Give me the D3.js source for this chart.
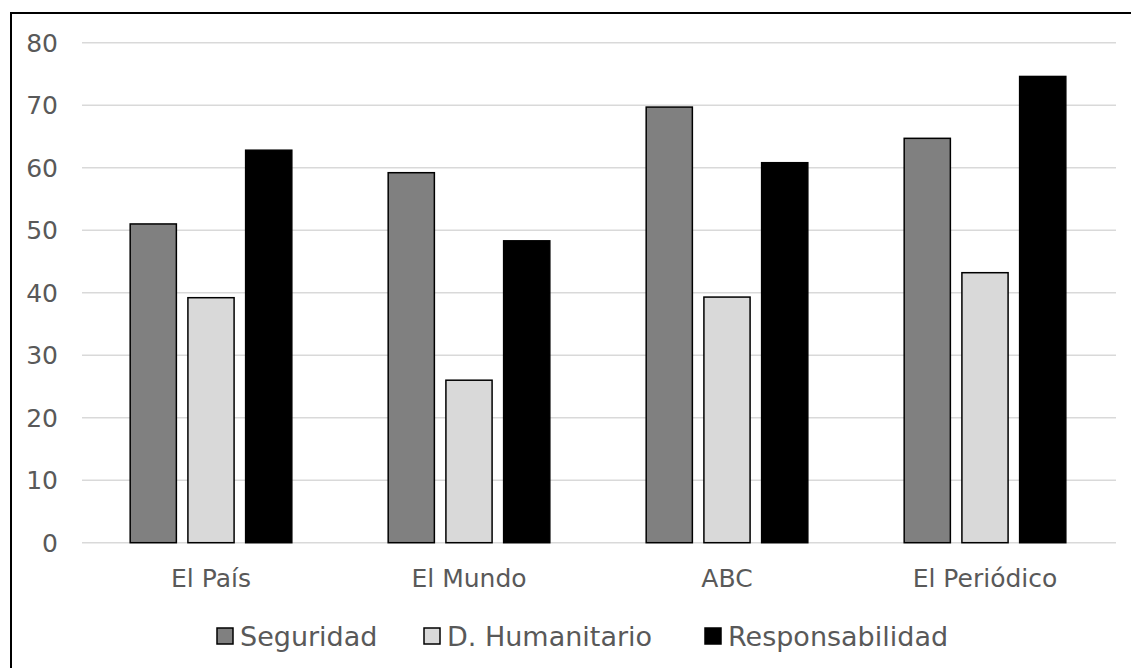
<!DOCTYPE html>
<html><head><meta charset="utf-8">
<script src="https://cdn.jsdelivr.net/npm/d3@7"></script>
<style>body{margin:0;background:#fff}svg{display:block}</style>
</head><body>
<svg id="c" width="1131" height="668"></svg>
<script>
const categories = ["El País", "El Mundo", "ABC", "El Periódico"];
const seriesNames = ["Seguridad", "D. Humanitario", "Responsabilidad"];
const seguridad = [51.0, 59.2, 69.7, 64.7];
const humanitario = [39.2, 26.0, 39.3, 43.2];
const responsabilidad = [62.8, 48.3, 60.8, 74.6];
const yTicks = [0, 10, 20, 30, 40, 50, 60, 70, 80];
const colors = ["#808080", "#d9d9d9", "#000000"];

const values = [seguridad, humanitario, responsabilidad];
const svg = d3.select("#c");
const font = "'DejaVu Sans', Verdana, sans-serif";
const fs = 25;

svg.append("rect").attr("x", 11).attr("y", 13).attr("width", 1300).attr("height", 800)
  .attr("fill", "#fff").attr("stroke", "#000").attr("stroke-width", 2);

const y = d3.scaleLinear().domain([0, 80]).range([542.7, 42.7]);
const x0 = d3.scaleBand().domain(categories).range([82, 1114]).paddingInner(0.3735).paddingOuter(0.18675);
const x1 = d3.scaleBand().domain(seriesNames).range([0, x0.bandwidth()]).paddingInner(0.2).paddingOuter(0);

// gridlines
svg.append("g").selectAll("line").data(yTicks).join("line")
  .attr("x1", 82).attr("x2", 1116)
  .attr("y1", d => y(d)).attr("y2", d => y(d))
  .attr("stroke", "#d9d9d9").attr("stroke-width", 1.5);

// y labels
svg.append("g").selectAll("text").data(yTicks).join("text")
  .attr("x", 58).attr("y", d => y(d)).attr("dy", "0.36em")
  .attr("text-anchor", "end").attr("font-family", font).attr("font-size", fs)
  .attr("fill", "#595959").text(d => d);

// bars
const g = svg.append("g");
categories.forEach((c, ci) => {
  seriesNames.forEach((s, si) => {
    g.append("rect")
      .attr("x", x0(c) + x1(s))
      .attr("y", y(values[si][ci]))
      .attr("width", x1.bandwidth())
      .attr("height", y(0) - y(values[si][ci]))
      .attr("fill", colors[si]).attr("stroke", "#000").attr("stroke-width", 1.5);
  });
});

// x labels
svg.append("g").selectAll("text").data(categories).join("text")
  .attr("x", d => x0(d) + x0.bandwidth() / 2).attr("y", 587)
  .attr("text-anchor", "middle").attr("font-family", font).attr("font-size", fs)
  .attr("fill", "#595959").text(d => d);

// legend
const legX = [217, 424, 705];
const lg = svg.append("g");
seriesNames.forEach((s, i) => {
  lg.append("rect").attr("x", legX[i]).attr("y", 628).attr("width", 16).attr("height", 16)
    .attr("fill", colors[i]).attr("stroke", "#000").attr("stroke-width", 1.5);
  lg.append("text").attr("x", legX[i] + 23).attr("y", 646)
    .attr("font-family", font).attr("font-size", 27).attr("fill", "#595959").text(s);
});
</script>
</body></html>
